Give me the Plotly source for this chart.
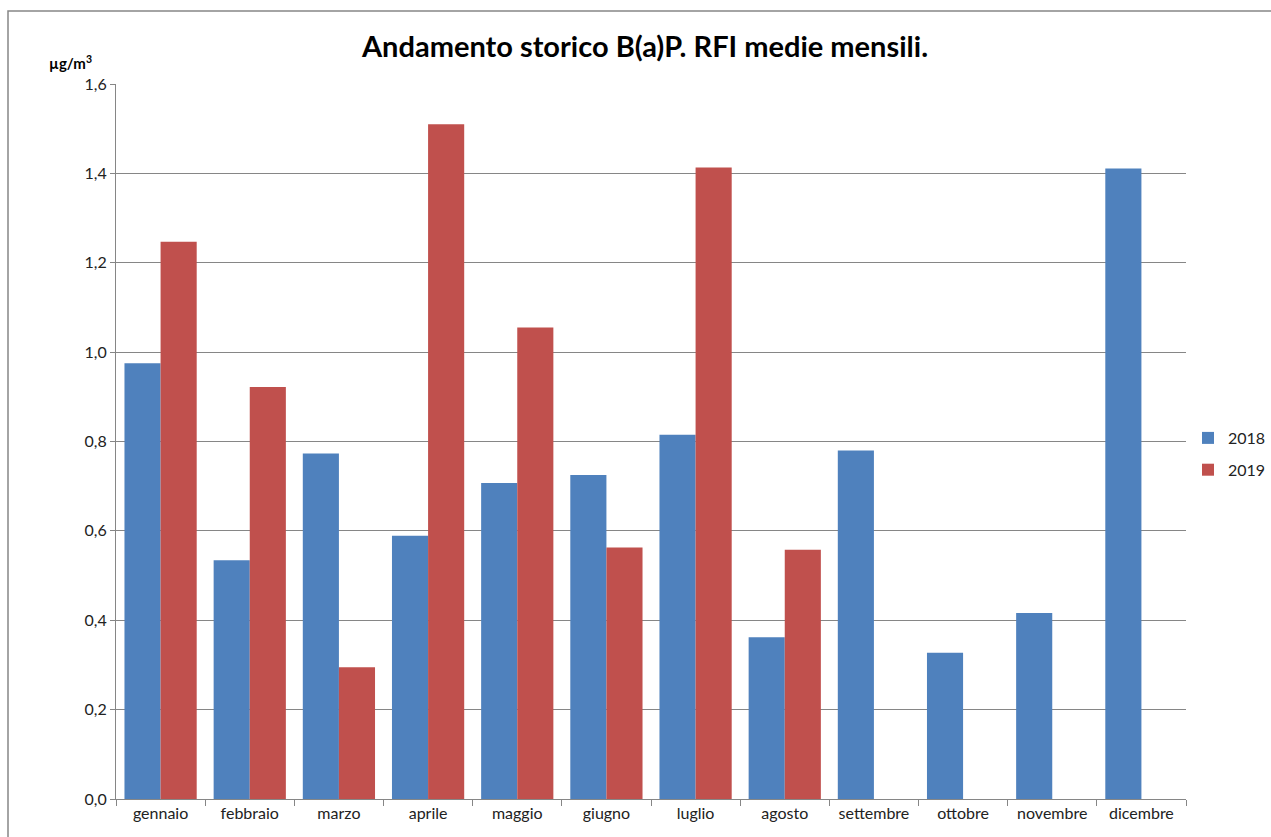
import plotly.graph_objects as go

mesi = ["gennaio", "febbraio", "marzo", "aprile", "maggio", "giugno",
        "luglio", "agosto", "settembre", "ottobre", "novembre", "dicembre"]
valori_2018 = [0.975, 0.534, 0.773, 0.589, 0.707, 0.725,
               0.815, 0.362, 0.780, 0.327, 0.416, 1.411]
valori_2019 = [1.247, 0.922, 0.295, 1.510, 1.055, 0.563,
               1.413, 0.558, None, None, None, None]
tick_y = [0.0, 0.2, 0.4, 0.6, 0.8, 1.0, 1.2, 1.4, 1.6]

W, H = 1271, 837
L, R, T, B = 116, 85, 84, 38
pw, ph = W - L - R, H - T - B

def px_x(x):
    return (x - L) / pw

def px_y(y):
    return 1 - (y - T) / ph

fig = go.Figure()
fig.add_trace(go.Bar(x=mesi, y=valori_2018, name="2018", legendgroup="a",
                     marker=dict(color="#4F81BD", line=dict(width=0))))
fig.add_trace(go.Bar(x=mesi, y=valori_2019, name="2019", legendgroup="b",
                     marker=dict(color="#C0504D", line=dict(width=0))))

font_fam = "Lato, 'Open Sans', sans-serif"

fig.update_layout(
    width=W, height=H,
    margin=dict(l=L, r=R, t=T, b=B, autoexpand=False),
    paper_bgcolor="white", plot_bgcolor="white",
    barmode="group", bargap=0.19, bargroupgap=0,
    separators=",.",
    font=dict(family=font_fam, size=15, color="#222222"),
    showlegend=True,
    legend=dict(x=px_x(1188), y=px_y(421), xanchor="left", yanchor="top",
                font=dict(size=16, color="#222222"),
                traceorder="grouped", tracegroupgap=8,
                itemwidth=30, bgcolor="rgba(0,0,0,0)"),
    xaxis=dict(showline=True, linecolor="#868686", linewidth=1,
               ticks="outside", ticklen=6, tickcolor="#868686",
               tickson="boundaries", showgrid=False,
               tickfont=dict(size=16, color="#222222")),
    yaxis=dict(range=[0, 1.6], tickvals=tick_y, tickformat=".1f",
               showline=True, linecolor="#868686", linewidth=1,
               ticks="outside", ticklen=5, tickcolor="#868686",
               showgrid=True, gridcolor="#868686", gridwidth=1,
               zeroline=False, tickfont=dict(size=16, color="#222222")),
    shapes=[dict(type="rect", xref="paper", yref="paper",
                 x0=px_x(8), x1=px_x(1320), y0=px_y(880), y1=px_y(11),
                 line=dict(color="#868686", width=1.5), layer="above")],
    annotations=[
        dict(text="<b>Andamento storico B(a)P. RFI medie mensili.</b>",
             xref="paper", yref="paper", x=px_x(644), y=px_y(45),
             xanchor="center", yanchor="middle", showarrow=False,
             font=dict(size=29, color="#000000", family=font_fam)),
        dict(text="<b>µg/m<sup>3</sup></b>",
             xref="paper", yref="paper", x=px_x(47), y=px_y(62),
             xanchor="left", yanchor="middle", showarrow=False,
             font=dict(size=15, color="#000000", family=font_fam)),
    ],
)

fig.write_html("out.html")
